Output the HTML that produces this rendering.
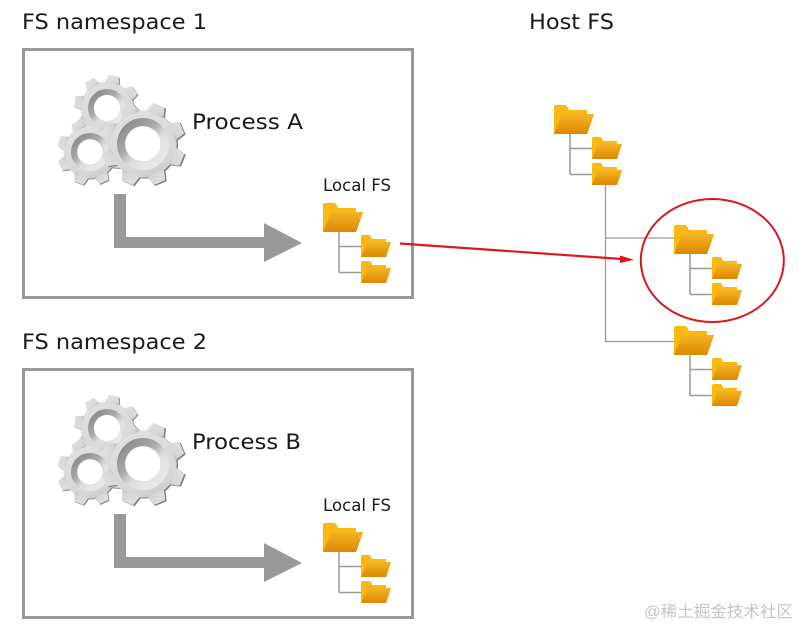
<!DOCTYPE html>
<html><head><meta charset="utf-8"><style>
html,body{margin:0;padding:0;background:#fff;width:799px;height:627px;overflow:hidden}
svg{display:block}
text{font-family:"DejaVu Sans","Liberation Sans",sans-serif;fill:#1a1a1a}
</style></head><body>
<svg width="799" height="627" viewBox="0 0 799 627" xmlns="http://www.w3.org/2000/svg">
<defs>
<linearGradient id="fr" x1="0" y1="0" x2="0" y2="1"><stop offset="0" stop-color="#f3b42a"/><stop offset="0.35" stop-color="#eda516"/><stop offset="1" stop-color="#dc8700"/></linearGradient>
<linearGradient id="rg" x1="0.1" y1="0.05" x2="0.85" y2="0.9"><stop offset="0" stop-color="#8c8c8c"/><stop offset="0.4" stop-color="#aaa"/><stop offset="0.65" stop-color="#dedede"/><stop offset="1" stop-color="#e8e8e8"/></linearGradient>
<linearGradient id="bd" x1="0" y1="0" x2="1" y2="1"><stop offset="0" stop-color="#e2e2e2"/><stop offset="0.75" stop-color="#d6d6d6"/><stop offset="1" stop-color="#bdbdbd"/></linearGradient>
<g id="big">
<path d="M0 29V1.5Q0 0 2 0H11Q13 0 15 5H33V9.5H40L33 29Z" fill="#fab911"/>
<path d="M8 9H40L33 29H0Z" fill="url(#fr)"/>
</g>
<g id="small">
<path d="M0 22V1.5Q0 0 2 0H8Q10 0 11 4H25V7H30L25 22Z" fill="#fab911"/>
<path d="M6 7H30L25 22H0Z" fill="url(#fr)"/>
</g>
<path id="tooth" d="M-15-100H15L22-75H-22Z"/>
<g id="gs">
<circle r="80"/>
<use href="#tooth"/>
<use href="#tooth" transform="rotate(45)"/>
<use href="#tooth" transform="rotate(90)"/>
<use href="#tooth" transform="rotate(135)"/>
<use href="#tooth" transform="rotate(180)"/>
<use href="#tooth" transform="rotate(225)"/>
<use href="#tooth" transform="rotate(270)"/>
<use href="#tooth" transform="rotate(315)"/>
</g>
<g id="gears">
<use href="#gs" transform="translate(108 109) rotate(12) scale(.33)" fill="#8a8a8a"/>
<use href="#gs" transform="translate(107 108) rotate(12) scale(.33)" fill="url(#bd)"/>
<circle cx="107" cy="108" r="16" fill="none" stroke="url(#rg)" stroke-width="6"/>
<circle cx="107" cy="108" r="13" fill="#fff"/>
<use href="#gs" transform="translate(91 153) rotate(20) scale(.33)" fill="#8a8a8a"/>
<use href="#gs" transform="translate(90 152) rotate(20) scale(.33)" fill="url(#bd)"/>
<circle cx="90" cy="152" r="16" fill="none" stroke="url(#rg)" stroke-width="6"/>
<circle cx="90" cy="152" r="12.5" fill="#fff"/>
<use href="#gs" transform="translate(144.5 145) rotate(22) scale(.42)" fill="#808080"/>
<use href="#gs" transform="translate(143 144) rotate(22) scale(.42)" fill="url(#bd)"/>
<circle cx="143" cy="144" r="22" fill="none" stroke="url(#rg)" stroke-width="8"/>
<circle cx="143" cy="144" r="17.5" fill="#fff"/>
</g>
<g id="tree" fill="none" stroke="#999" stroke-width="1.5">
<path d="M16 29V69.5M16 43.5H38M16 69.5H38"/>
</g>
<g id="unit">
<use href="#tree"/>
<use href="#big"/>
<use href="#small" x="38" y="32"/>
<use href="#small" x="38" y="58"/>
</g>
<g id="arrow" fill="#999">
<path d="M114 194H126V237H264V223L302 243L264 262V248H114Z"/>
</g>
</defs>

<rect x="23.5" y="49.5" width="389" height="248" fill="none" stroke="#999" stroke-width="3"/>
<rect x="23.5" y="369.5" width="389" height="248" fill="none" stroke="#999" stroke-width="3"/>

<text x="22" y="29" font-size="21" textLength="185" lengthAdjust="spacingAndGlyphs">FS namespace 1</text>
<text x="22" y="349" font-size="21" textLength="185" lengthAdjust="spacingAndGlyphs">FS namespace 2</text>
<text x="529" y="29" font-size="21" textLength="85" lengthAdjust="spacingAndGlyphs">Host FS</text>
<text x="192" y="129" font-size="21" textLength="111" lengthAdjust="spacingAndGlyphs">Process A</text>
<text x="192" y="449" font-size="21" textLength="109" lengthAdjust="spacingAndGlyphs">Process B</text>
<text x="323" y="191" font-size="17" textLength="68" lengthAdjust="spacingAndGlyphs">Local FS</text>
<text x="323" y="511" font-size="17" textLength="68" lengthAdjust="spacingAndGlyphs">Local FS</text>

<use href="#gears"/>
<use href="#gears" y="320"/>
<use href="#arrow"/>
<use href="#arrow" y="320"/>

<use href="#unit" x="323" y="203"/>
<use href="#unit" x="323" y="523"/>

<path d="M605.5 184V341.5H674M605.5 238H674" fill="none" stroke="#999" stroke-width="1.3"/>
<use href="#unit" x="554" y="105"/>
<use href="#unit" x="674" y="225"/>
<use href="#unit" x="674" y="326"/>

<ellipse cx="712.3" cy="260.5" rx="71.5" ry="61.5" fill="none" stroke="#d8161c" stroke-width="2"/>
<path d="M400 243.5L622 259" fill="none" stroke="#e3151c" stroke-width="2.2"/>
<path d="M620 255.5L634 259.8L620 263Z" fill="#e3151c"/>

<text x="644" y="617" font-size="16" style="font-family:'Liberation Sans','Noto Sans CJK SC',sans-serif;fill:#c4c4c4" textLength="149" lengthAdjust="spacingAndGlyphs">@稀土掘金技术社区</text>
</svg>
</body></html>
